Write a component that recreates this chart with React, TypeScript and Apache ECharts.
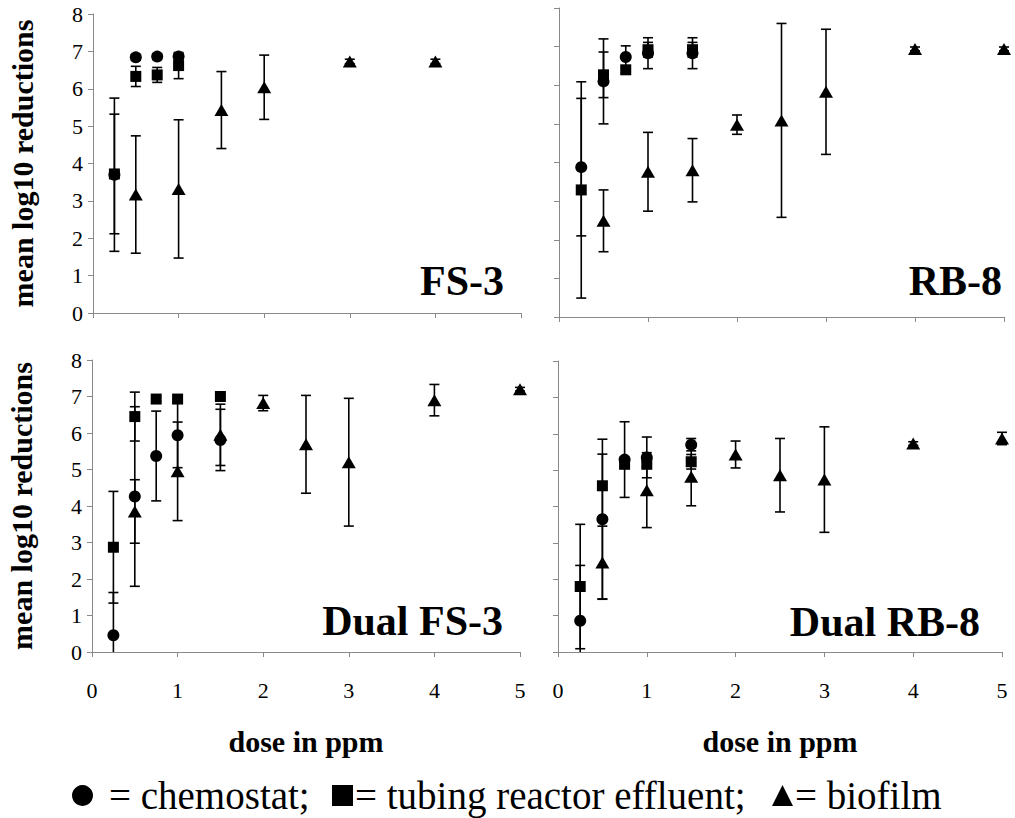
import React, { useEffect, useRef } from "react";
import * as echarts from "echarts";

// ---------- data (dose in ppm, mean log10 reduction, error) ----------
// FS-3
const FS3_CHEMO_DOSE = [0.25, 0.5, 0.75, 1];
const FS3_CHEMO_MEAN = [3.7, 6.84, 6.86, 6.86];
const FS3_CHEMO_ERR = [2.05, 0.08, 0.08, 0.08];
const FS3_TUBE_DOSE = [0.25, 0.5, 0.75, 1];
const FS3_TUBE_MEAN = [3.72, 6.33, 6.37, 6.62];
const FS3_TUBE_ERR = [1.6, 0.27, 0.2, 0.35];
const FS3_BIO_DOSE = [0.5, 1, 1.5, 2, 3, 4];
const FS3_BIO_MEAN = [3.17, 3.32, 5.43, 6.04, 6.73, 6.73];
const FS3_BIO_ERR = [1.57, 1.85, 1.03, 0.86, 0.06, 0.06];

// RB-8
const RB8_CHEMO_DOSE = [0.25, 0.5, 0.75, 1, 1.5];
const RB8_CHEMO_MEAN = [3.88, 6.1, 6.73, 6.83, 6.83];
const RB8_CHEMO_ERR = [1.78, 1.1, 0.29, 0.4, 0.4];
const RB8_TUBE_DOSE = [0.25, 0.5, 0.75, 1, 1.5];
const RB8_TUBE_MEAN = [3.29, 6.27, 6.4, 6.92, 6.92];
const RB8_TUBE_ERR = [2.8, 0.59, 0.08, 0.19, 0.19];
const RB8_BIO_DOSE = [0.5, 1, 1.5, 2, 2.5, 3, 4, 5];
const RB8_BIO_MEAN = [2.49, 3.76, 3.8, 4.98, 5.09, 5.83, 6.94, 6.94];
const RB8_BIO_ERR = [0.8, 1.02, 0.82, 0.25, 2.51, 1.62, 0.05, 0.05];

// Dual FS-3
const DFS3_CHEMO_DOSE = [0.25, 0.5, 0.75, 1, 1.5];
const DFS3_CHEMO_MEAN = [0.46, 4.26, 5.37, 5.94, 5.81];
const DFS3_CHEMO_ERR = [1.17, 2.46, 1.23, 0.89, 0.84];
const DFS3_TUBE_DOSE = [0.25, 0.5, 0.75, 1, 1.5];
const DFS3_TUBE_MEAN = [2.87, 6.45, 6.93, 6.93, 7.0];
const DFS3_TUBE_ERR = [1.53, 0.67, 0.06, 0.06, 0.06];
const DFS3_BIO_DOSE = [0.5, 1, 1.5, 2, 2.5, 3, 4, 5];
const DFS3_BIO_MEAN = [3.85, 4.95, 5.95, 6.82, 5.69, 5.2, 6.9, 7.2];
const DFS3_BIO_ERR = [0.87, 1.35, 0.84, 0.21, 1.34, 1.75, 0.43, 0.05];

// Dual RB-8
const DRB8_CHEMO_DOSE = [0.25, 0.5, 0.75, 1, 1.5];
const DRB8_CHEMO_MEAN = [0.86, 3.65, 5.29, 5.35, 5.7];
const DRB8_CHEMO_ERR = [1.52, 2.2, 1.04, 0.56, 0.17];
const DRB8_TUBE_DOSE = [0.25, 0.5, 0.75, 1, 1.5];
const DRB8_TUBE_MEAN = [1.8, 4.57, 5.16, 5.16, 5.23];
const DRB8_TUBE_ERR = [1.71, 0.87, 0.08, 0.08, 0.2];
const DRB8_BIO_DOSE = [0.5, 1, 1.5, 2, 2.5, 3, 4, 5];
const DRB8_BIO_MEAN = [2.46, 4.45, 4.82, 5.43, 4.86, 4.74, 5.73, 5.87];
const DRB8_BIO_ERR = [1.0, 1.03, 0.8, 0.37, 1.01, 1.45, 0.05, 0.17];

const PANEL_LABELS = ["FS-3", "RB-8", "Dual FS-3", "Dual RB-8"];
const GROUP_NAMES = ["chemostat", "tubing reactor effluent", "biofilm"];
const LEGEND_TEXTS = ["= chemostat;", "= tubing reactor effluent;", "= biofilm"];
const Y_TITLE = "mean log10 reductions";
const X_TITLE = "dose in ppm";

const FONT = "Liberation Serif, Times New Roman, Times, serif";
const AXIS_GRAY = "#898989";

type Group = { dose: number[]; mean: number[]; err: number[] };
const PANELS: Group[][] = [
  [
    { dose: FS3_CHEMO_DOSE, mean: FS3_CHEMO_MEAN, err: FS3_CHEMO_ERR },
    { dose: FS3_TUBE_DOSE, mean: FS3_TUBE_MEAN, err: FS3_TUBE_ERR },
    { dose: FS3_BIO_DOSE, mean: FS3_BIO_MEAN, err: FS3_BIO_ERR },
  ],
  [
    { dose: RB8_CHEMO_DOSE, mean: RB8_CHEMO_MEAN, err: RB8_CHEMO_ERR },
    { dose: RB8_TUBE_DOSE, mean: RB8_TUBE_MEAN, err: RB8_TUBE_ERR },
    { dose: RB8_BIO_DOSE, mean: RB8_BIO_MEAN, err: RB8_BIO_ERR },
  ],
  [
    { dose: DFS3_CHEMO_DOSE, mean: DFS3_CHEMO_MEAN, err: DFS3_CHEMO_ERR },
    { dose: DFS3_TUBE_DOSE, mean: DFS3_TUBE_MEAN, err: DFS3_TUBE_ERR },
    { dose: DFS3_BIO_DOSE, mean: DFS3_BIO_MEAN, err: DFS3_BIO_ERR },
  ],
  [
    { dose: DRB8_CHEMO_DOSE, mean: DRB8_CHEMO_MEAN, err: DRB8_CHEMO_ERR },
    { dose: DRB8_TUBE_DOSE, mean: DRB8_TUBE_MEAN, err: DRB8_TUBE_ERR },
    { dose: DRB8_BIO_DOSE, mean: DRB8_BIO_MEAN, err: DRB8_BIO_ERR },
  ],
];

const SYMBOLS = ["circle", "rect", "triangle"];
const SYMBOL_SIZES: any[] = [12, 11, [14, 12]];

const GRIDS = [
  { left: 93, top: 14, width: 428, height: 299 },
  { left: 559, top: 8, width: 445, height: 309 },
  { left: 92, top: 360, width: 428, height: 292 },
  { left: 558, top: 361, width: 444, height: 291 },
];

const TITLE_POS = [
  { x: 504, y: 281 },
  { x: 1002, y: 281 },
  { x: 503, y: 621 },
  { x: 980, y: 622 },
];

function renderErr(params: any, api: any) {
  const x = api.value(0);
  const m = api.value(1);
  const e = api.value(2);
  const lo = Math.max(m - e, 0);
  const hi = Math.min(m + e, 8);
  const top = api.coord([x, hi]);
  const bot = api.coord([x, lo]);
  const cap = 5;
  const style = { stroke: "#000", lineWidth: 1.6 };
  const children: any[] = [
    { type: "line", shape: { x1: top[0], y1: top[1], x2: bot[0], y2: bot[1] }, style },
    { type: "line", shape: { x1: top[0] - cap, y1: top[1], x2: top[0] + cap, y2: top[1] }, style },
  ];
  if (m - e > 0) {
    children.push({
      type: "line",
      shape: { x1: bot[0] - cap, y1: bot[1], x2: bot[0] + cap, y2: bot[1] },
      style,
    });
  }
  return { type: "group", children };
}

export default function App() {
  const ref = useRef<HTMLDivElement>(null);
  useEffect(() => {
    if (!ref.current) return;
    const chart = echarts.init(ref.current, undefined, { renderer: "svg" });

    const xAxis = GRIDS.map((_, i) => ({
      type: "value",
      gridIndex: i,
      min: 0,
      max: 5,
      interval: 1,
      splitLine: { show: false },
      axisLine: { lineStyle: { color: AXIS_GRAY, width: 1 } },
      axisTick: { show: true, length: 5, lineStyle: { color: AXIS_GRAY } },
      axisLabel: {
        show: i >= 2,
        margin: 27,
        fontSize: 22,
        fontFamily: FONT,
        color: "#000",
      },
      name: i >= 2 ? X_TITLE : "",
      nameLocation: "middle",
      nameGap: 74,
      nameTextStyle: { fontSize: 30, fontWeight: "bold", fontFamily: FONT, color: "#000" },
    }));

    const yAxis = GRIDS.map((_, i) => ({
      type: "value",
      gridIndex: i,
      min: 0,
      max: 8,
      interval: 1,
      splitLine: { show: false },
      axisLine: { show: true, lineStyle: { color: AXIS_GRAY, width: 1 } },
      axisTick: { show: true, length: 5, lineStyle: { color: AXIS_GRAY } },
      axisLabel: {
        show: i % 2 === 0,
        margin: 10,
        fontSize: 22,
        fontFamily: FONT,
        color: "#000",
      },
      name: i % 2 === 0 ? Y_TITLE : "",
      nameLocation: "middle",
      nameGap: 56,
      nameTextStyle: { fontSize: 30, fontWeight: "bold", fontFamily: FONT, color: "#000" },
    }));

    const series: any[] = [];
    PANELS.forEach((groups, p) => {
      groups.forEach((g, k) => {
        series.push({
          type: "custom",
          name: GROUP_NAMES[k] + " error",
          xAxisIndex: p,
          yAxisIndex: p,
          renderItem: renderErr,
          encode: { x: 0, y: 1 },
          data: g.dose.map((d, j) => [d, g.mean[j], g.err[j]]),
          z: 2,
          silent: true,
        });
      });
      groups.forEach((g, k) => {
        series.push({
          type: "scatter",
          name: GROUP_NAMES[k],
          xAxisIndex: p,
          yAxisIndex: p,
          symbol: SYMBOLS[k],
          symbolSize: SYMBOL_SIZES[k],
          itemStyle: { color: "#000", opacity: 1 },
          data: g.dose.map((d, j) => [d, g.mean[j]]),
          z: 3,
          silent: true,
        });
      });
    });

    const legendLefts = [72, 332, 772];
    const legend = GROUP_NAMES.map((name, k) => ({
      data: [{ name, icon: SYMBOLS[k] }],
      left: legendLefts[k],
      top: 776,
      padding: 0,
      itemWidth: 21,
      itemHeight: 21,
      itemGap: 0,
      selectedMode: false,
      itemStyle: { color: "#000" },
      formatter: () => LEGEND_TEXTS[k],
      textStyle: {
        fontSize: 39,
        fontFamily: FONT,
        fontWeight: "normal",
        color: "#000",
        padding: k === 0 ? [0, 0, 0, 11] : [0, 0, 0, -3],
      },
    }));

    const graphic = PANEL_LABELS.map((t, i) => ({
      type: "text",
      x: TITLE_POS[i].x,
      y: TITLE_POS[i].y,
      style: {
        text: t,
        font: `bold 42px ${FONT}`,
        fill: "#000",
        align: "right",
        verticalAlign: "middle",
      },
    }));

    chart.setOption({
      animation: false,
      backgroundColor: "#fff",
      textStyle: { fontFamily: FONT },
      grid: GRIDS.map((g) => ({ ...g, containLabel: false })),
      xAxis,
      yAxis,
      legend,
      graphic,
      series,
    });

    return () => chart.dispose();
  }, []);

  return (
    <div
      ref={ref}
      style={{ position: "fixed", left: 0, top: 0, width: 1015, height: 818, background: "#fff" }}
    />
  );
}
